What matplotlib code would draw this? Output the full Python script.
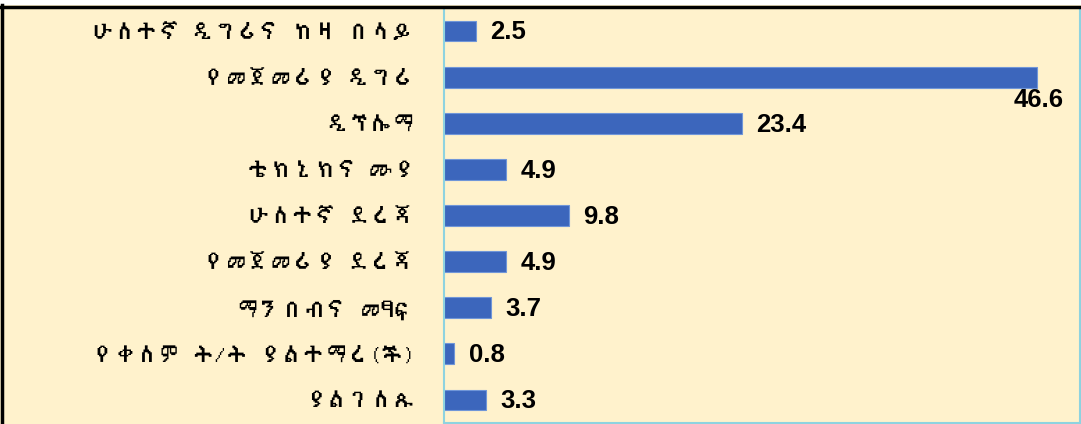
import matplotlib
matplotlib.use("Agg")
import matplotlib.pyplot as plt
from matplotlib import font_manager
from matplotlib.ft2font import FT2Font
from matplotlib.patches import Rectangle
from matplotlib.lines import Line2D

# data
categories = ["ሁለተኛ ዲግሪና ከዛ በላይ", "የመጀመሪያ ዲግሪ", "ዲፕሎማ", "ቴክኒክና ሙያ",
              "ሁለተኛ ደረጃ", "የመጀመሪያ ደረጃ", "ማንበብና መፃፍ",
              "የቀለም ት/ት ያልተማረ(ች)", "ያልገለጹ"]
values = [2.5, 46.6, 23.4, 4.9, 9.8, 4.9, 3.7, 0.8, 3.3]


# look for an installed font that has Ethiopic letters
def find_ethiopic():
    for f in font_manager.fontManager.ttflist:
        try:
            if 0x1200 in FT2Font(f.fname).get_charmap():
                return f.name
        except Exception:
            pass
    return None


eth = find_ethiopic()
families = ([eth] if eth else []) + ["Noto Sans", "DejaVu Sans"]

bg = "#FFF2CC"
fig = plt.figure(figsize=(10.81, 4.24), dpi=100, facecolor=bg)
ax = fig.add_axes([444 / 1081, 1 / 424, 636 / 1081, 415 / 424])
ax.set_facecolor(bg)

y = list(range(len(values)))
ax.barh(y, values, height=0.45, color="#3C66BC", edgecolor="#7096D8", linewidth=0.8)
ax.set_xlim(0, 50)
ax.set_ylim(len(values) - 0.5, -0.5)
ax.set_xticks([])
ax.set_yticks(y)
ax.set_yticklabels(categories, family=families, fontsize=16, fontweight="bold")
ax.tick_params(axis="y", length=0, pad=21)

ax.spines["top"].set_visible(False)
for sp in ["left", "right", "bottom"]:
    ax.spines[sp].set_color("#8ED3E0")
    ax.spines[sp].set_linewidth(1.5)

# value labels
for i, v in enumerate(values):
    if v == max(values):
        ax.annotate(f"{v}", (v, i), xytext=(19.5, -16.5), textcoords="offset points",
                    ha="right", va="center", fontsize=18.5, fontweight="bold",
                    family="Liberation Sans")
    else:
        ax.annotate(f"{v}", (v, i), xytext=(10.5, -1), textcoords="offset points",
                    ha="left", va="center", fontsize=18.5, fontweight="bold",
                    family="Liberation Sans")

# frame of the screenshot: white strip on top, black lines top and left
fig.patches.append(Rectangle((0, 1 - 5 / 424), 1, 5 / 424, transform=fig.transFigure,
                             facecolor="white", edgecolor="none", zorder=0))
fig.lines.append(Line2D([0, 1], [1 - 6.5 / 424, 1 - 6.5 / 424], transform=fig.transFigure,
                        color="black", linewidth=2.5))
fig.lines.append(Line2D([1.5 / 1081, 1.5 / 1081], [0, 1 - 5 / 424], transform=fig.transFigure,
                        color="black", linewidth=2.5))

fig.savefig("out.png", dpi=100, facecolor=bg)
